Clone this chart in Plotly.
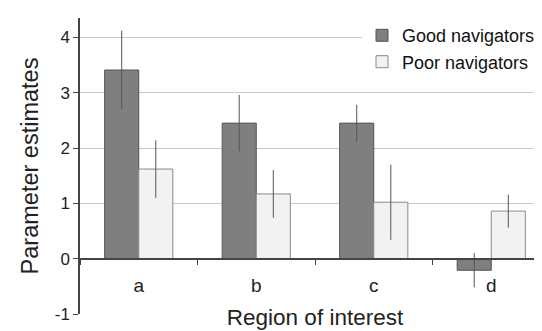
import plotly.graph_objects as go

categories = ["a", "b", "c", "d"]
good_values = [3.41, 2.45, 2.45, -0.21]
good_errors = [0.71, 0.51, 0.33, 0.31]
poor_values = [1.62, 1.17, 1.02, 0.86]
poor_errors = [0.52, 0.43, 0.68, 0.30]
y_ticks = [-1, 0, 1, 2, 3, 4]
y_tick_labels = ["-1", "0", "1", "2", "3", "4"]

FONT = "Liberation Sans, Arial, sans-serif"
y_min, y_max = -1, 4.35

fig = go.Figure()
fig.add_trace(go.Bar(
    name="Good navigators", x=categories, y=good_values,
    marker=dict(color="#7f7f7f", line=dict(color="#555555", width=1)),
    error_y=dict(type="data", array=good_errors, color="#555555", thickness=1, width=0),
))
fig.add_trace(go.Bar(
    name="Poor navigators", x=categories, y=poor_values,
    marker=dict(color="#f2f2f2", line=dict(color="#8a8a8a", width=1)),
    error_y=dict(type="data", array=poor_errors, color="#555555", thickness=1, width=0),
))

fig.update_layout(
    width=542, height=331,
    margin=dict(l=72, r=0, t=10, b=25),
    paper_bgcolor="white", plot_bgcolor="white",
    barmode="group", bargap=0.42, bargroupgap=0,
    font=dict(family=FONT, color="#222222"),
    legend=dict(x=0.60, y=1.003, xanchor="left", yanchor="top",
                bgcolor="white", font=dict(size=18, color="#111111"),
                itemwidth=30, tracegroupgap=3),
    showlegend=True,
)
fig.update_xaxes(
    type="category", range=[-0.5, 3.5],
    anchor="free", position=(0 - y_min) / (y_max - y_min),
    showline=True, linecolor="#444444", linewidth=1.5,
    tickson="boundaries", ticks="outside", ticklen=6, tickcolor="#444444",
    showgrid=False, zeroline=False,
    ticklabelstandoff=10, tickfont=dict(size=19),
    title=dict(text="Region of interest", font=dict(size=22.5), standoff=13),
)
fig.update_yaxes(
    range=[y_min, y_max], tickvals=y_ticks, ticktext=y_tick_labels,
    showline=True, linecolor="#444444", linewidth=1.5,
    ticks="outside", ticklen=5, tickcolor="#444444",
    showgrid=True, gridcolor="#c8c8c8", gridwidth=1,
    zeroline=False, tickfont=dict(size=17),
    title=dict(text="Parameter estimates", font=dict(size=23.5), standoff=9),
)
fig.write_html("out.html")
